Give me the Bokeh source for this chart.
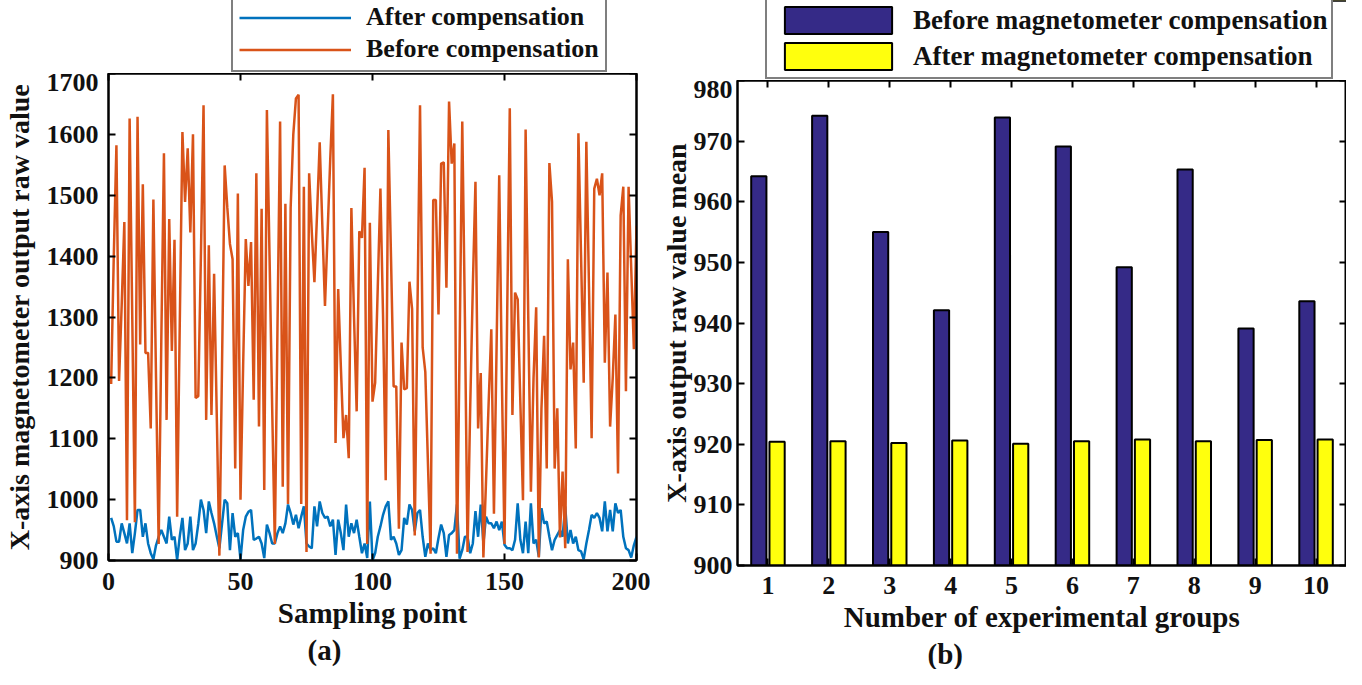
from bokeh.plotting import figure
from bokeh.layouts import row, column
from bokeh.models import (Range1d, LinearAxis, FixedTicker, Legend, LegendItem,
                          Title, ColumnDataSource)
from bokeh.transform import dodge
from bokeh.embed import file_html
from bokeh.resources import INLINE

# ---------------- data ----------------
sample_x = list(range(1, 201))

before_comp = [
    1190, 1400, 1582, 1195, 1320, 1456, 966, 1626, 1300, 963,
    1629, 1255, 1518, 1241, 1241, 1117, 1493, 1200, 927, 1260,
    1569, 1131, 1461, 1244, 1427, 972, 1290, 1604, 1489, 1577,
    1439, 1600, 1167, 1170, 1400, 1648, 1131, 1418, 1139, 1371,
    1140, 908, 1220, 1549, 1480, 1420, 1395, 1051, 1503, 1000,
    1220, 1428, 1351, 1423, 1164, 1536, 1120, 1478, 1016, 1640,
    1400, 1150, 927, 1280, 1621, 1021, 1486, 993, 1480, 1600,
    1659, 1665, 993, 1514, 914, 1536, 1440, 1357, 1470, 1587,
    1450, 1318, 1440, 1560, 1666, 1093, 1346, 1220, 1101, 1139,
    1068, 1479, 1300, 1145, 1441, 1430, 1545, 927, 1455, 1161,
    1192, 1350, 1511, 1300, 1032, 1607, 1400, 1186, 1186, 952,
    1258, 1181, 1183, 1358, 1313, 941, 1300, 1648, 1250, 1210,
    1060, 911, 1492, 1492, 1304, 1552, 1554, 1348, 1654, 1552,
    1585, 911, 1250, 1621, 1300, 914, 1150, 1350, 1522, 1117,
    1208, 905, 1030, 1160, 1280, 977, 1250, 1533, 1200, 927,
    1300, 1643, 1139, 1340, 1329, 1160, 999, 1608, 1300, 1013,
    1200, 1316, 905, 1150, 1269, 1051, 1553, 1489, 1051, 1150,
    938, 1046, 920, 1395, 1214, 1258, 1084, 1602, 1400, 1192,
    1588, 1350, 1101, 1511, 1527, 1500, 1536, 1225, 1373, 1120,
    1200, 1304, 1043, 1467, 1514, 1178, 1514, 1380, 1247, 1450,
]

after_comp = [
    970, 956, 931, 931, 961, 945, 928, 961, 912, 945,
    983, 983, 939, 961, 928, 912, 902, 925, 939, 950,
    939, 928, 972, 934, 939, 901, 940, 970, 917, 928,
    972, 917, 928, 960, 1000, 983, 945, 997, 978, 961,
    940, 920, 960, 1000, 994, 917, 978, 939, 945, 902,
    950, 972, 980, 983, 934, 936, 939, 928, 904, 959,
    945, 928, 928, 945, 956, 945, 961, 992, 978, 959,
    975, 953, 972, 989, 928, 923, 920, 989, 956, 997,
    978, 970, 972, 956, 967, 909, 967, 945, 917, 992,
    939, 961, 945, 967, 939, 912, 928, 904, 997, 900,
    912, 939, 956, 975, 989, 997, 934, 939, 928, 909,
    917, 970, 959, 992, 983, 948, 978, 983, 939, 906,
    928, 917, 920, 912, 937, 959, 945, 906, 942, 945,
    950, 992, 903, 917, 939, 939, 912, 928, 981, 939,
    992, 928, 972, 961, 961, 953, 964, 950, 964, 926,
    920, 920, 917, 934, 994, 934, 912, 964, 912, 994,
    928, 934, 906, 986, 961, 964, 939, 917, 934, 942,
    950, 939, 989, 928, 950, 928, 939, 917, 915, 902,
    928, 950, 975, 970, 978, 970, 948, 997, 948, 983,
    948, 994, 978, 983, 939, 920, 917, 905, 925, 939,
]

groups = [1, 2, 3, 4, 5, 6, 7, 8, 9, 10]
before_mean = [964.2, 974.2, 955.0, 942.1, 973.9, 969.1, 949.2, 965.3, 939.1, 943.6]
after_mean = [920.4, 920.5, 920.2, 920.6, 920.1, 920.5, 920.8, 920.5, 920.7, 920.8]

left_xticks = [0, 50, 100, 150, 200]
left_yticks = [900, 1000, 1100, 1200, 1300, 1400, 1500, 1600, 1700]
right_yticks = [900, 910, 920, 930, 940, 950, 960, 970, 980]

FONT = "Liberation Serif"
INK = "#111111"
BLUE_LINE = "#0072BD"
ORANGE_LINE = "#D95319"
BAR_BEFORE = "#352A87"
BAR_AFTER = "#FFFF0D"

TOTAL_H = 669
LEG_H1 = 73
LEG_H2 = 80


def style_axis(ax, ticks, labels=True, label_standoff=8, title_standoff=6, title_size="29px"):
    ax.ticker = FixedTicker(ticks=ticks)
    ax.axis_line_width = 2
    ax.axis_line_color = "black"
    ax.major_tick_in = 7
    ax.major_tick_out = 0
    ax.major_tick_line_width = 2
    ax.major_tick_line_color = "black"
    ax.minor_tick_line_color = None
    ax.major_label_text_font = FONT
    ax.major_label_text_font_style = "bold"
    if labels:
        ax.major_label_text_color = INK
        ax.major_label_text_font_size = "26px"
        ax.major_label_standoff = label_standoff
        ax.axis_label_text_font = FONT
        ax.axis_label_text_font_style = "bold"
        ax.axis_label_text_font_size = title_size
        ax.axis_label_text_color = INK
        ax.axis_label_standoff = title_standoff
    else:
        ax.major_label_text_color = None
        ax.major_label_text_font_size = "1px"
        ax.major_label_standoff = 0
        ax.axis_label = None
        ax.axis_label_standoff = 0


def make_legend(items, loc, gw, gh, standoff, pad, spacing, fsize):
    leg = Legend(items=items, location=loc, orientation="vertical")
    leg.label_text_font = FONT
    leg.label_text_font_style = "bold"
    leg.label_text_font_size = fsize
    leg.label_text_color = INK
    leg.glyph_width = gw
    leg.glyph_height = gh
    leg.label_height = gh
    leg.label_standoff = standoff
    leg.padding = pad
    leg.spacing = spacing
    leg.margin = 0
    leg.border_line_color = "black"
    leg.border_line_width = 2
    leg.background_fill_color = "white"
    leg.background_fill_alpha = 1
    return leg


def legend_fig(width, height):
    # the frame of this strip is aligned with the plot below it
    f = figure(width=width, height=height, x_axis_type=None, y_axis_type=None,
               x_range=Range1d(0, 1), y_range=Range1d(0, 1),
               output_backend="svg", toolbar_location=None,
               min_border_left=0, min_border_right=0, min_border_top=0, min_border_bottom=0)
    f.grid.visible = False
    f.outline_line_color = None
    return f


def panel_title(text, offset):
    return Title(text=text, align="left", offset=offset, standoff=0, text_font=FONT,
                 text_font_style="bold", text_font_size="29px", text_color=INK)


# ---------------- left figure ----------------
p1 = figure(width=650, height=TOTAL_H - LEG_H1, x_range=Range1d(0, 200), y_range=Range1d(900, 1700),
            output_backend="svg", toolbar_location=None,
            min_border_left=99, min_border_right=14, min_border_top=0, min_border_bottom=109)
p1.grid.visible = False
p1.outline_line_color = "black"
p1.outline_line_width = 2
p1.xaxis.axis_label = "Sampling point"
p1.yaxis.axis_label = "X-axis magnetometer output raw value"
style_axis(p1.xaxis[0], left_xticks, label_standoff=12, title_standoff=4)
style_axis(p1.yaxis[0], left_yticks, label_standoff=10, title_standoff=9, title_size="28px")
ax_top1 = LinearAxis()
style_axis(ax_top1, left_xticks, labels=False)
p1.add_layout(ax_top1, "above")
ax_right1 = LinearAxis()
style_axis(ax_right1, left_yticks, labels=False)
p1.add_layout(ax_right1, "right")

p1.line(sample_x, after_comp, line_color=BLUE_LINE, line_width=2.5)
p1.line(sample_x, before_comp, line_color=ORANGE_LINE, line_width=2.5)
p1.add_layout(panel_title("(a)", 199), "below")

lf1 = legend_fig(650, LEG_H1)
# legend keys: one-point lines draw nothing in the strip
k_after = lf1.line(x=sample_x[:1], y=after_comp[:1], line_color=BLUE_LINE, line_width=2.5)
k_before = lf1.line(x=sample_x[:1], y=before_comp[:1], line_color=ORANGE_LINE, line_width=2.5)
leg1 = make_legend([LegendItem(label="After compensation", renderers=[k_after]),
                    LegendItem(label="Before compensation", renderers=[k_before])],
                   (123, 1), 112, 29, 15, 6, 2, "26px")
lf1.add_layout(leg1, "center")

# ---------------- right figure ----------------
p2 = figure(width=696, height=TOTAL_H - LEG_H2, x_range=Range1d(0.5, 10.5), y_range=Range1d(900, 980),
            output_backend="svg", toolbar_location=None,
            min_border_left=87, min_border_right=0, min_border_top=0, min_border_bottom=101)
p2.grid.visible = False
p2.outline_line_color = "black"
p2.outline_line_width = 2
p2.xaxis.axis_label = "Number of experimental groups"
p2.yaxis.axis_label = "X-axis output raw value mean"
style_axis(p2.xaxis[0], groups, label_standoff=11, title_standoff=4)
style_axis(p2.yaxis[0], right_yticks, label_standoff=5, title_standoff=-1, title_size="28px")
ax_top2 = LinearAxis()
style_axis(ax_top2, groups, labels=False)
p2.add_layout(ax_top2, "above")
ax_right2 = LinearAxis()
style_axis(ax_right2, right_yticks, labels=False)
p2.add_layout(ax_right2, "right")

src = ColumnDataSource(dict(g=groups, before=before_mean, after=after_mean))
p2.vbar(x=dodge("g", -0.15, range=None), top="before", bottom=900, width=0.25,
        source=src, fill_color=BAR_BEFORE, line_color="black", line_width=2)
p2.vbar(x=dodge("g", 0.15, range=None), top="after", bottom=900, width=0.25,
        source=src, fill_color=BAR_AFTER, line_color="black", line_width=2)
p2.add_layout(panel_title("(b)", 190), "below")

lf2 = legend_fig(696, LEG_H2)
# legend keys: zero-height bars far outside the strip's 0..1 view
k_b = lf2.vbar(x=groups[:1], top=before_mean[:1], bottom=before_mean[:1], width=0.25,
               fill_color=BAR_BEFORE, line_color="black", line_width=2)
k_a = lf2.vbar(x=groups[:1], top=after_mean[:1], bottom=after_mean[:1], width=0.25,
               fill_color=BAR_AFTER, line_color="black", line_width=2)
leg2 = make_legend([LegendItem(label="Before magnetometer compensation", renderers=[k_b]),
                    LegendItem(label="After magnetometer compensation", renderers=[k_a])],
                   (28, 1), 134, 34, 8, 4, 2, "27px")
lf2.add_layout(leg2, "center")

layout = row(column(lf1, p1), column(lf2, p2))
open("out.html", "w").write(file_html(layout, INLINE))
